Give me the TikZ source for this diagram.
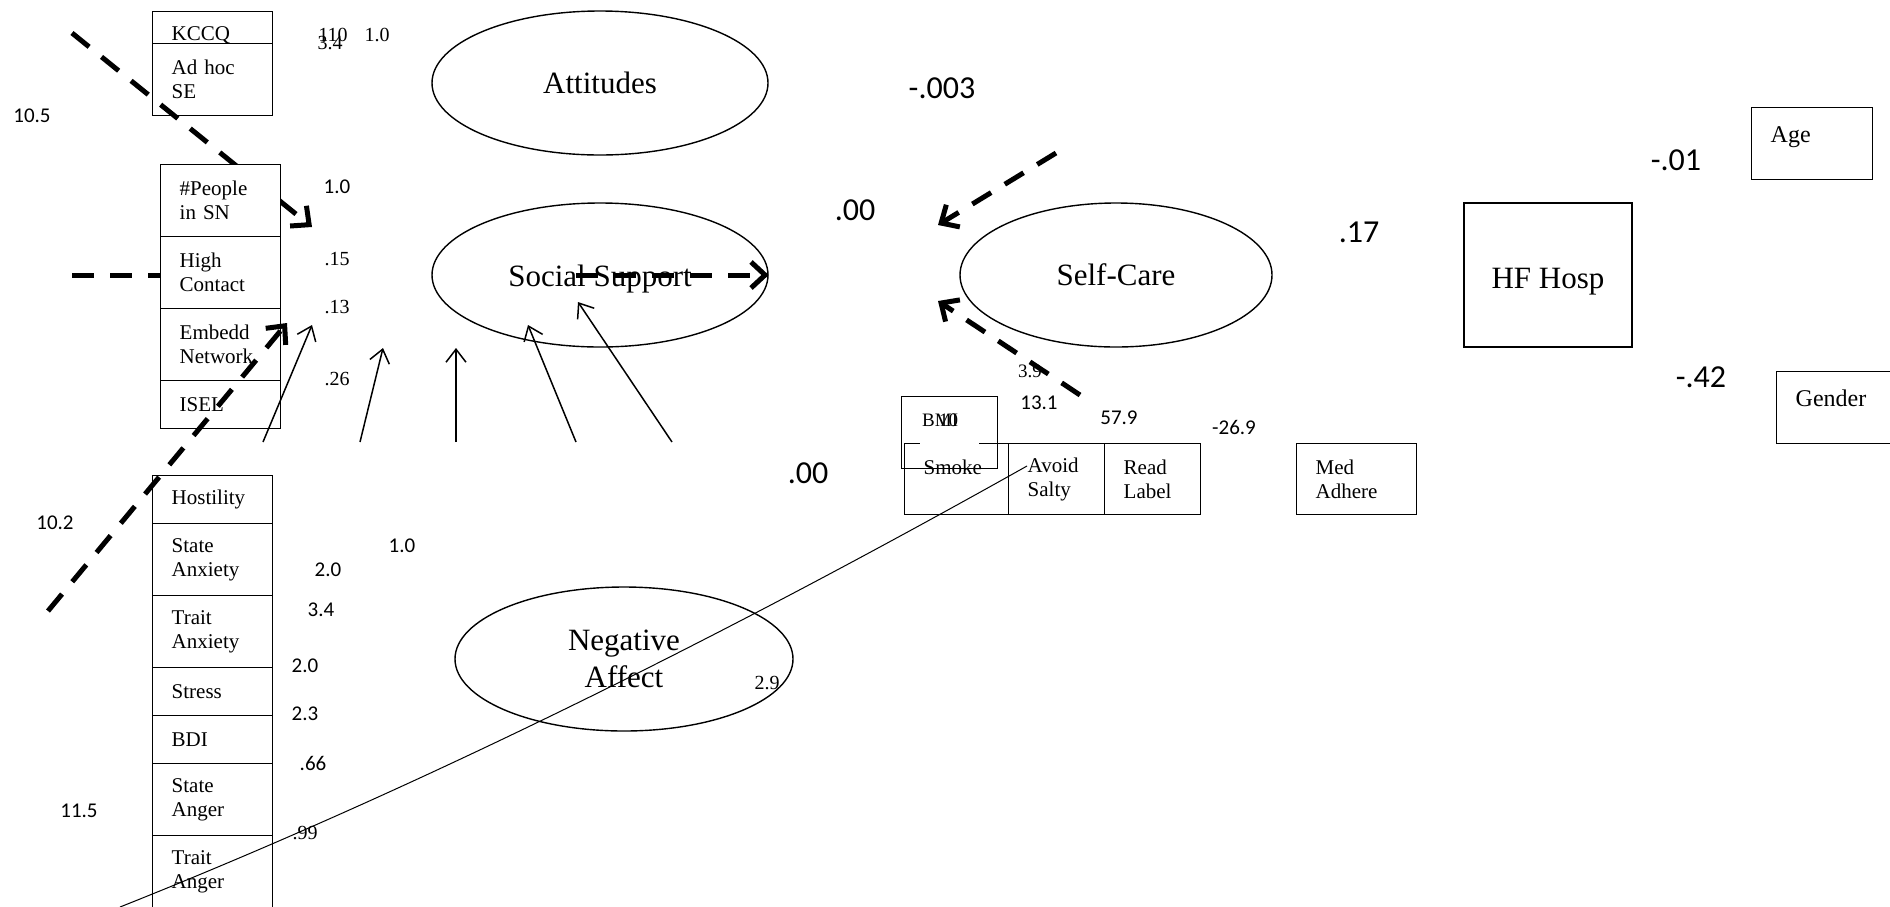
\documentclass[tikz,border=0pt]{standalone}
\usepackage{fontspec}
\setmainfont{Liberation Serif}
\newfontfamily\calfont{Carlito}
\usetikzlibrary{arrows.meta,shapes.geometric}
\newcommand\fsz[2]{\fontsize{#1}{#2}\selectfont}

\begin{document}
\begin{tikzpicture}[x=1pt,y=-1pt,
  box/.style={draw, line width=1.4pt, fill=white, rectangle, anchor=north west,
    inner xsep=19pt, inner ysep=0pt, align=left, font=\fsz{21}{24}},
  w120/.style={minimum width=120pt, text width=82pt},
  h72/.style={minimum height=72pt},
  h48/.style={minimum height=48pt},
  lat/.style={draw, line width=1.4pt, ellipse, inner sep=0pt, font=\fsz{31}{37},
    align=center, minimum height=144pt},
  dsh/.style={line width=5pt, dash pattern=on 22pt off 16pt},
  dtip/.style={-{Straight Barb[length=14pt,width=26pt]}},
  thinarrow/.style={line width=1.5pt, -{Straight Barb[length=13pt,width=20pt]}},
  tnum/.style={font=\fsz{20}{24}, inner sep=0pt},
  cnum/.style={font=\calfont\fsz{21}{25}, inner sep=0pt},
  bnum/.style={font=\calfont\fsz{32}{38}, inner sep=0pt},
]
\useasboundingbox (0,0) rectangle (1890,906);
\clip (0,0) rectangle (1890,906);

% attitude indicators
\node[box, w120, h72, text height=14pt, text depth=28pt] (kccq) at (152,11) {KCCQ};
\node[box, w120, h72] (adhoc) at (152,43) {Ad hoc\\SE};

% path passing behind the network boxes
\coordinate (tlA) at (72,33);
\coordinate (tlB) at (312,227);
\draw[dsh,dtip] (tlA) -- (tlB);

% social support indicators
\node[box, w120, h72] (sn1) at (160,164) {\#People\\in SN};
\node[box, w120, h72] (sn2) at (160,236) {High\\Contact};
\node[box, w120, h72] (sn3) at (160,308) {Embedd\\Network};
\node[box, w120, h48] (sn4) at (160,380) {ISEL};

% negative affect indicators
\node[box, w120, h48] (na1) at (152,475) {Hostility};
\node[box, w120, h72] (na2) at (152,523) {State\\Anxiety};
\node[box, w120, h72] (na3) at (152,595) {Trait\\Anxiety};
\node[box, w120, h48] (na4) at (152,667) {Stress};
\node[box, w120, h48] (na5) at (152,715) {BDI};
\node[box, w120, h72] (na6) at (152,763) {State\\Anger};
\node[box, w120, h72] (na7) at (152,835) {Trait\\Anger};

\coordinate (hcA) at (72,275);
\coordinate (hcB) at (160,275);
\draw[dsh] (hcA) -- (hcB);

% latent variables
\node[lat, minimum width=336pt] (att) at (600,83) {Attitudes};
\node[lat, minimum width=336pt, text height=22pt, text depth=0pt] (ss) at (600,275) {Social Support};
\node[lat, minimum width=312pt] (sc) at (1116,275) {Self-Care};
\node[lat, minimum width=338pt] (neg) at (624,659) {Negative\\Affect};

\coordinate (ssA) at (576,275);
\draw[dsh,dtip] (ssA) -- (ss.east);

\coordinate (llA) at (48,611);
\coordinate (llB) at (287,323);
\draw[dsh,dtip] (llA) -- (llB);

% thin arrows from below
\coordinate (a1s) at (263,442); \coordinate (a1e) at (312,325);
\coordinate (a2s) at (360,442); \coordinate (a2e) at (383,348);
\coordinate (a3s) at (456,442); \coordinate (a3e) at (456,348);
\coordinate (a4s) at (576,442); \coordinate (a4e) at (528,325);
\coordinate (a5s) at (672,442); \coordinate (a5e) at (578,302);
\draw[thinarrow] (a1s) -- (a1e);
\draw[thinarrow] (a2s) -- (a2e);
\draw[thinarrow] (a3s) -- (a3e);
\draw[thinarrow] (a4s) -- (a4e);
\draw[thinarrow] (a5s) -- (a5e);

% self-care indicators
\node[box, minimum width=104pt, text width=66pt, minimum height=71pt,
  text height=12pt, text depth=21pt] (smoke) at (904,443) {Smoke};
\node[box, minimum width=96pt, text width=58pt, minimum height=71pt] (avoid) at (1008,443) {Avoid\\Salty};
\node[box, minimum width=96pt, text width=58pt, minimum height=71pt] (read) at (1104,443) {Read\\Label};
\node[box, w120, minimum height=71pt] (med) at (1296,443) {Med\\Adhere};
\fill[white] (920,440) rectangle (979,446.5);
\node[draw, line width=1.4pt, rectangle, anchor=north west, minimum width=96pt,
  minimum height=72pt, inner sep=0pt] (bmi) at (901,396) {};
\node[tnum, anchor=west, font=\fsz{19}{22}] (bmitxt) at (922,420) {BMI};
\node[tnum, anchor=west, font=\fsz{19}{22}] (bmival) at (939,420) {10};

\coordinate (scA) at (1056,153); \coordinate (scB) at (938,225);
\coordinate (scC) at (1080,395); \coordinate (scD) at (938,301);
\draw[dsh,dtip] (scA) -- (scB);
\draw[dsh,dtip] (scC) -- (scD);

% long thin curve
\coordinate (cvA) at (120,907);
\coordinate (cvB) at (1027,466);
\draw[line width=1pt] (cvA) .. controls (399,796) and (701,649) .. (cvB);

% outcome and covariates
\node[draw, line width=1.4pt, rectangle, minimum width=168pt, minimum height=144pt,
  inner sep=0pt, font=\fsz{31}{37}, text height=26pt, text depth=0pt] (hf) at (1548,275) {HF Hosp};
\node[box, minimum width=121pt, text width=83pt, h72, font=\fsz{24}{28},
  text height=16pt, text depth=18pt] (age) at (1751,107) {Age};
\node[box, minimum width=150pt, text width=112pt, h72, font=\fsz{24}{28},
  text height=16pt, text depth=18pt] (gender) at (1776,371) {Gender};

% coefficients
\node[tnum] (l110) at (333,35) {110};
\node[tnum] (l34a) at (330,43) {3.4};
\node[tnum] (l10a) at (377,35) {1.0};
\node[tnum] (l15) at (337,259) {.15};
\node[tnum] (l13) at (337,307) {.13};
\node[tnum] (l26) at (337,379) {.26};
\node[tnum] (l99) at (305,833) {.99};
\node[tnum] (l29) at (767,683) {2.9};
\node[tnum, font=\fsz{19}{22}] (l39) at (1030,371) {3.9};

\node[cnum] (l105) at (32,116) {10.5};
\node[cnum] (l10b) at (337,187) {1.0};
\node[cnum] (l102) at (55,523) {10.2};
\node[cnum] (l10c) at (402,546) {1.0};
\node[cnum] (l20a) at (328,570) {2.0};
\node[cnum] (l34b) at (321,610) {3.4};
\node[cnum] (l20b) at (305,666) {2.0};
\node[cnum] (l23) at (305,714) {2.3};
\node[cnum] (l66) at (313,763) {.66};
\node[cnum] (l115) at (79,811) {11.5};
\node[cnum] (l131) at (1039,403) {13.1};
\node[cnum] (l579) at (1119,418) {57.9};
\node[cnum] (l269) at (1234,427) {-26.9};

\node[bnum] (l003) at (942,88) {-.003};
\node[bnum] (l00a) at (855,210) {.00};
\node[bnum] (l00b) at (808,473) {.00};
\node[bnum] (l17) at (1359,232) {.17};
\node[bnum] (l01) at (1676,160) {-.01};
\node[bnum] (l42) at (1701,377) {-.42};
\end{tikzpicture}
\end{document}
